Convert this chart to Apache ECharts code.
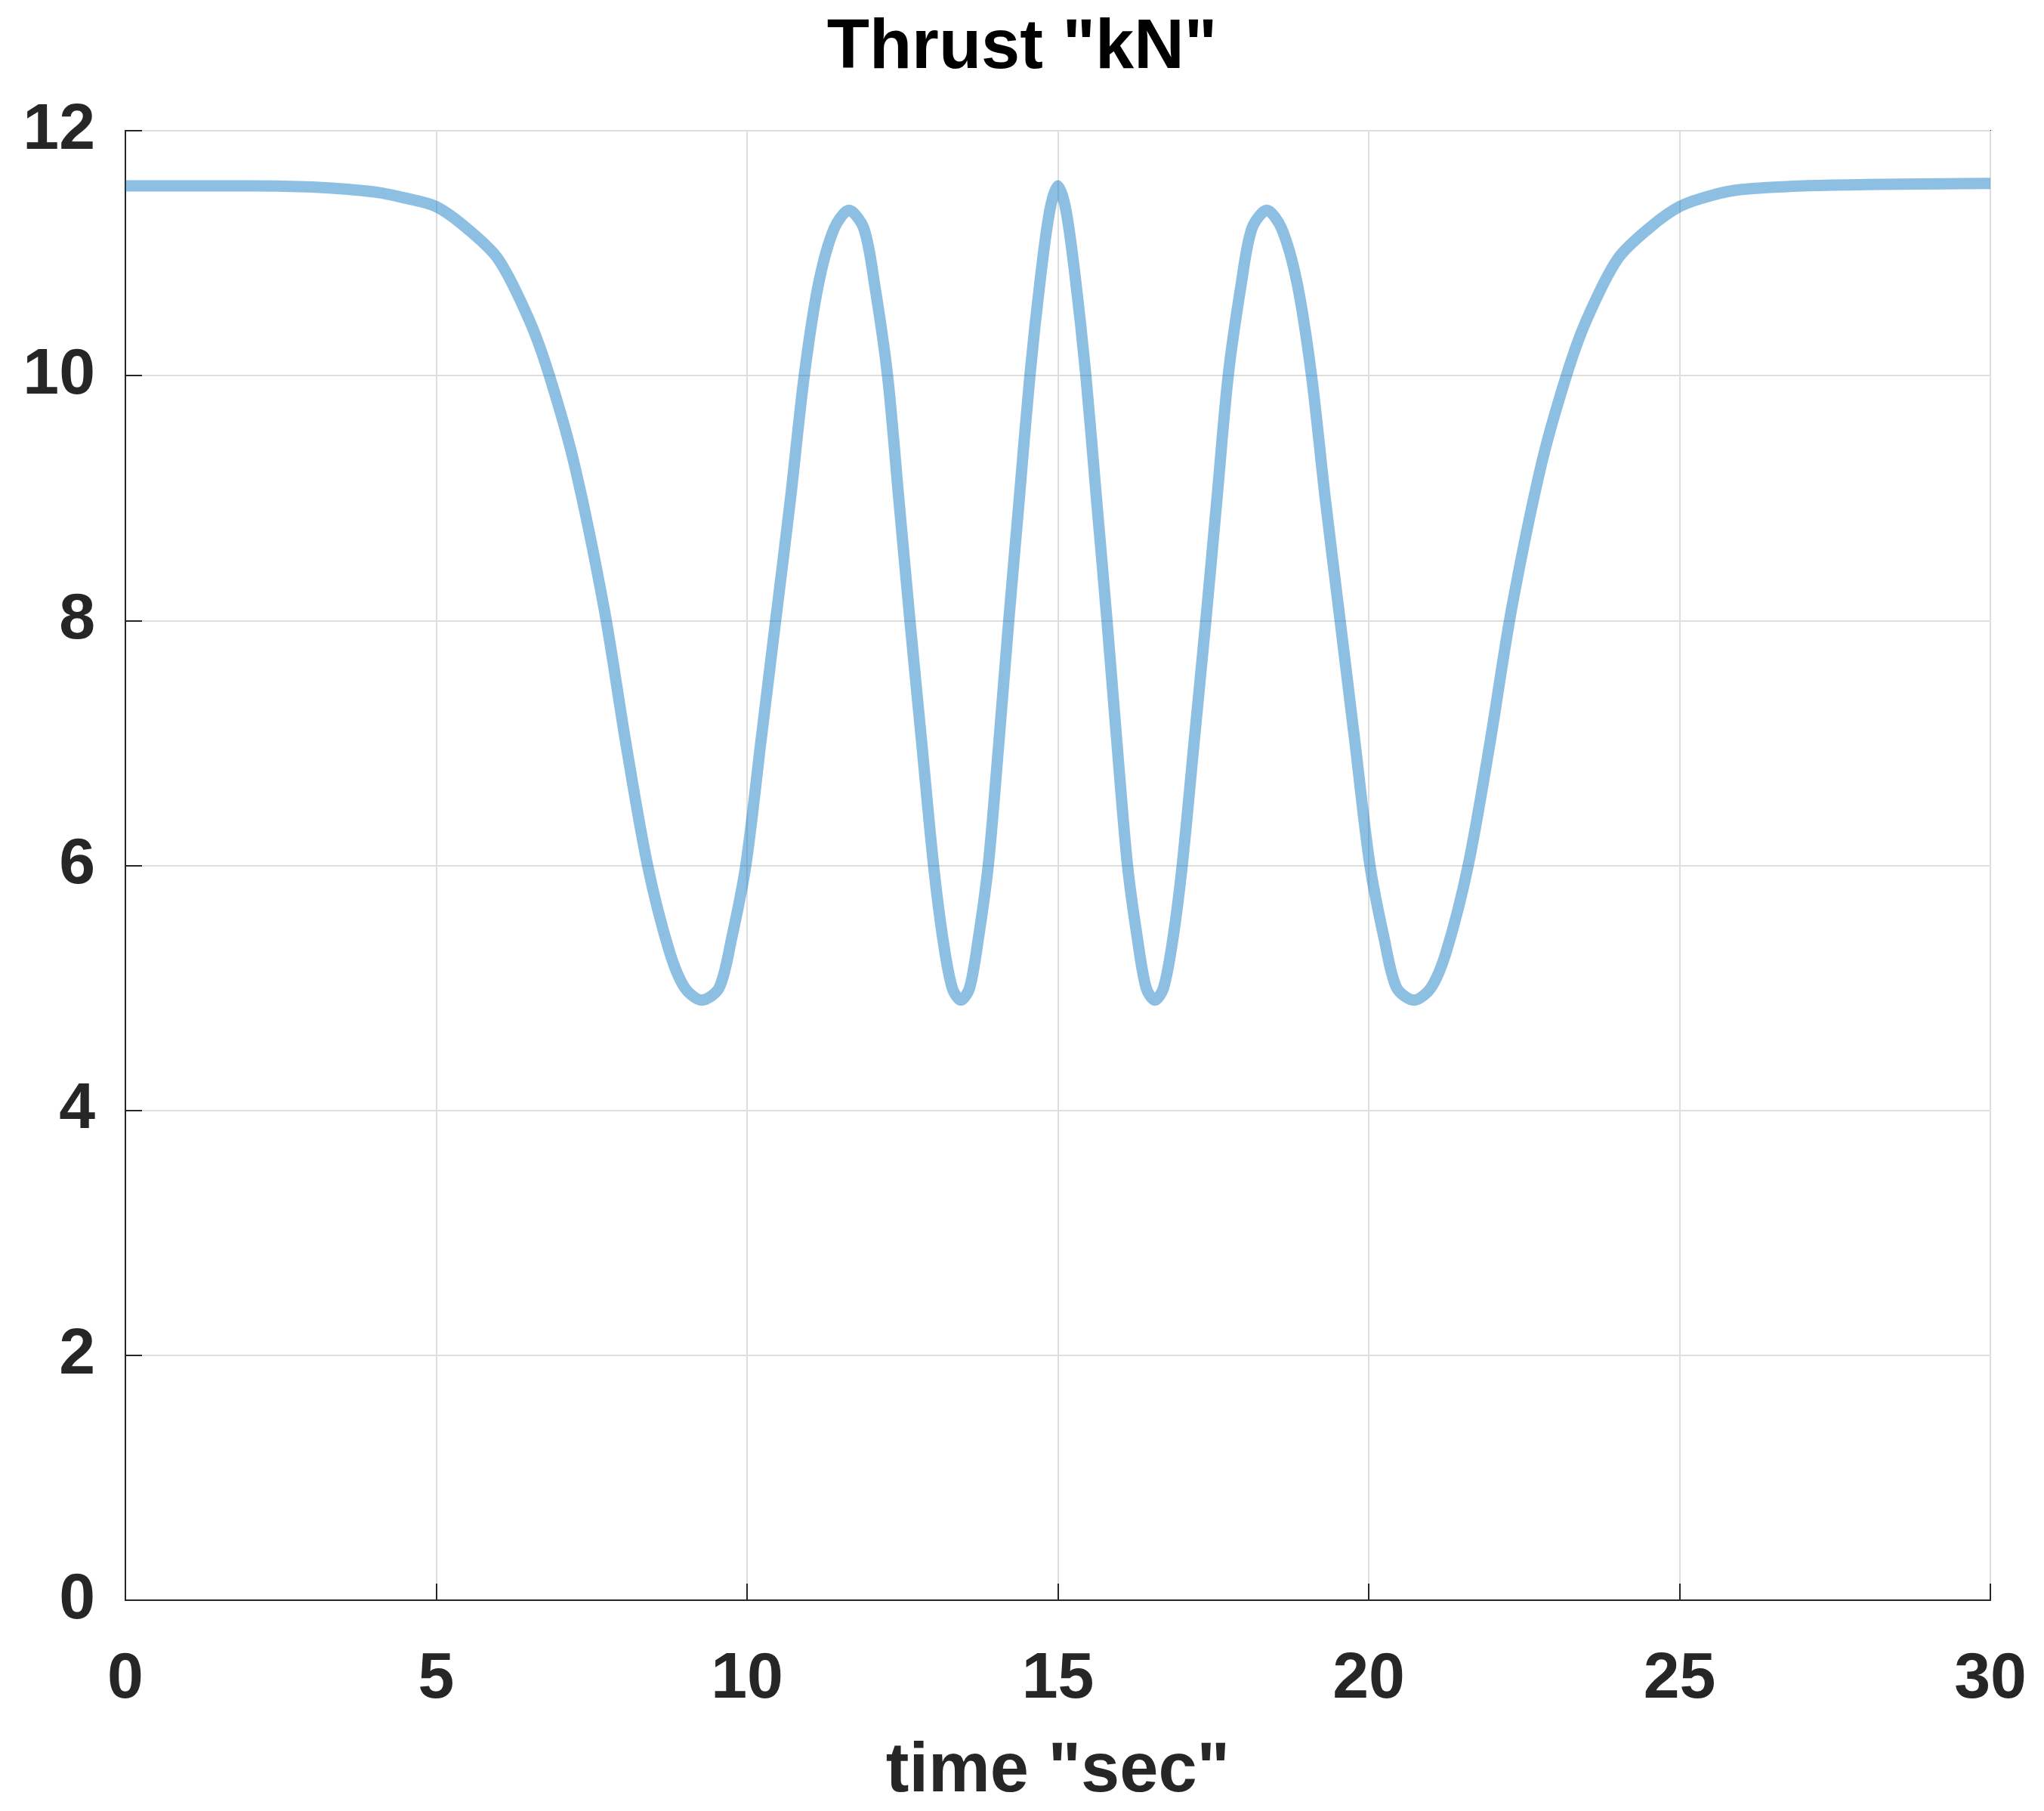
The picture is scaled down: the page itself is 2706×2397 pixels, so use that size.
<!DOCTYPE html>
<html>
<head>
<meta charset="utf-8">
<script src="https://cdn.jsdelivr.net/npm/echarts@6/dist/echarts.min.js"></script>
<style>
    html, body { margin: 0; padding: 0; background: #fff; }
    #chart { width: 2706px; height: 2397px; }
</style>
</head>
<body>
<div id="chart"></div>
<script>
// time "sec"
var timeData = [0, 2, 3, 4, 4.5, 5, 5.5, 6, 6.5, 6.82, 7.22, 7.7, 8.05, 8.4, 8.75, 9.0, 9.27, 9.55, 9.75, 9.98,
    10.22, 10.46, 10.7, 10.92, 11.15, 11.4, 11.64, 11.88, 12.05, 12.26, 12.44, 12.62, 12.81, 13.0, 13.15, 13.3, 13.44,
    13.58, 13.72, 13.88, 14.05, 14.21, 14.38, 14.55, 14.72, 14.87, 15.0,
    15.13, 15.28, 15.45, 15.62, 15.79, 15.95, 16.12, 16.28, 16.42, 16.56, 16.7, 16.85, 17.0, 17.19, 17.38, 17.56,
    17.74, 17.95, 18.12, 18.36, 18.6, 18.85, 19.08, 19.3, 19.54, 19.78, 20.02, 20.25, 20.45, 20.73, 21.0, 21.25,
    21.6, 21.95, 22.3, 22.78, 23.18, 23.5, 24, 24.5, 25, 25.5, 26, 27, 28, 30];
// Thrust "kN"
var thrustData = [11.55, 11.55, 11.54, 11.5, 11.45, 11.38, 11.2, 10.95, 10.45, 10.0, 9.28, 8.1, 7.0, 6.0, 5.3, 5.0, 4.9, 5.0, 5.4, 6.0,
    7.0, 8.0, 9.0, 10.0, 10.75, 11.2, 11.35, 11.2, 10.75, 10.0, 9.0, 8.0, 7.0, 6.0, 5.4, 5.0, 4.9,
    5.0, 5.4, 6.0, 7.0, 8.0, 9.0, 10.0, 10.8, 11.35, 11.55,
    11.35, 10.8, 10.0, 9.0, 8.0, 7.0, 6.0, 5.4, 5.0, 4.9, 5.0, 5.4, 6.0, 7.0, 8.0, 9.0,
    10.0, 10.75, 11.2, 11.35, 11.2, 10.75, 10.0, 9.0, 8.0, 7.0, 6.0, 5.4, 5.0, 4.9, 5.0, 5.3,
    6.0, 7.0, 8.1, 9.28, 10.0, 10.45, 10.95, 11.2, 11.38, 11.47, 11.52, 11.55, 11.56, 11.57];

var points = [];
for (var i = 0; i < timeData.length; i++) {
    points.push([timeData[i], thrustData[i]]);
}

var labelStyle = { fontFamily: 'Liberation Sans', fontWeight: 'bold', color: '#262626', fontSize: 86 };
var tickStyle = { show: true, inside: true, length: 22, lineStyle: { color: '#262626', width: 2 } };

var options = {
    animation: false,
    title: {
        text: 'Thrust "kN"',
        left: 'center',
        top: 14,
        textStyle: { fontFamily: 'Liberation Sans', fontWeight: 'bold', fontSize: 92, color: '#000' }
    },
    grid: { left: 166, right: 71, top: 173, bottom: 248, show: true, borderColor: '#262626', borderWidth: 2 },
    xAxis: {
        type: 'value', min: 0, max: 30, interval: 5,
        name: 'time "sec"', nameLocation: 'middle', nameGap: 182,
        nameTextStyle: { fontFamily: 'Liberation Sans', fontWeight: 'bold', fontSize: 92, color: '#262626' },
        axisLine: { show: true, lineStyle: { color: '#262626', width: 2 } },
        axisTick: tickStyle,
        axisLabel: Object.assign({ margin: 62 }, labelStyle),
        splitLine: { show: true, lineStyle: { color: '#dedede', width: 2 } }
    },
    yAxis: {
        type: 'value', min: 0, max: 12, interval: 2,
        axisLine: { show: true, lineStyle: { color: '#262626', width: 2 } },
        axisTick: tickStyle,
        axisLabel: Object.assign({ margin: 40 }, labelStyle),
        splitLine: { show: true, lineStyle: { color: '#dedede', width: 2 } }
    },
    series: [
        {
            type: 'line',
            data: points,
            smooth: 0.3,
            showSymbol: false,
            lineStyle: { color: 'rgba(0,114,189,0.45)', width: 15 }
        }
    ]
};
var chart = echarts.init(document.getElementById('chart'));
chart.setOption(options);
</script>
</body>
</html>
